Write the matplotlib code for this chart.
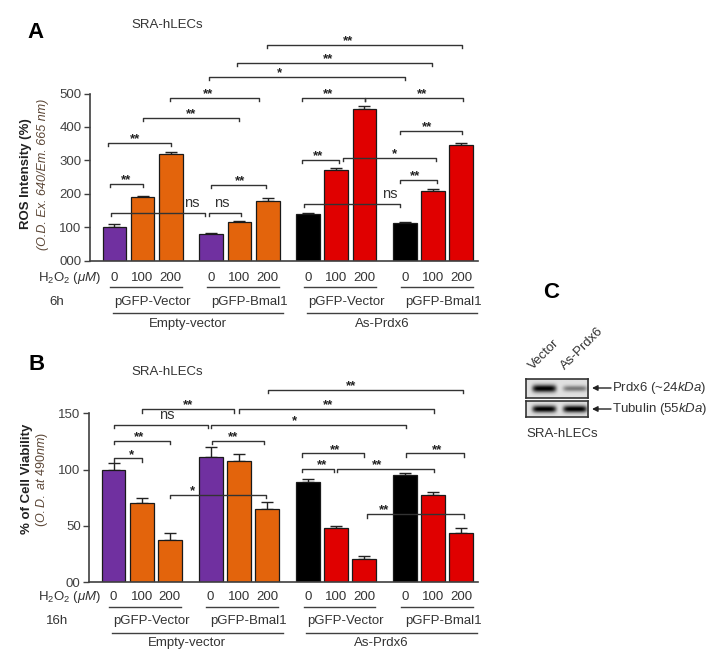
"""
ROS 强度与细胞活力柱状图（A、B）以及 Western blot 示意（C）。
"""

import numpy as np
import matplotlib
matplotlib.use('Agg')
import matplotlib.pyplot as plt
import matplotlib.transforms as mtransforms

plt.rcParams['font.family'] = ['Liberation Sans', 'DejaVu Sans']
plt.rcParams['mathtext.fontset'] = 'custom'
plt.rcParams['mathtext.rm'] = 'Liberation Sans'
plt.rcParams['mathtext.it'] = 'Liberation Sans:italic'
plt.rcParams['mathtext.bf'] = 'Liberation Sans:bold'

# 数据
doses = ['0', '100', '200']
groups = ['pGFP-Vector', 'pGFP-Bmal1', 'pGFP-Vector', 'pGFP-Bmal1']
sets = ['Empty-vector', 'As-Prdx6']
bar_colors = ['#7030a0', '#e3640c', '#e3640c',
              '#7030a0', '#e3640c', '#e3640c',
              '#000000', '#e00000', '#e00000',
              '#000000', '#e00000', '#e00000']

ros = [100, 190, 318, 80, 115, 179, 139, 270, 455, 112, 209, 345]
ros_err = [10, 5, 8, 2, 5, 8, 5, 8, 7, 4, 5, 7]
viab = [100, 70, 38, 111, 108, 65, 89, 48, 20.5, 95.5, 77.5, 44]
viab_err = [6, 5, 6, 9, 6, 6, 3, 2, 2.5, 2, 3, 4]

# 显著性标记 (x1, x2, y, 文字, 文字x)
brackets_a = [
    (5.44, 12.37, 646, '**', 8.31),
    (4.36, 11.30, 592, '**', 7.60),
    (3.36, 10.34, 550, '*', 5.86),
    (1.97, 5.14, 487, '**', 3.33),
    (1.00, 4.43, 427, '**', 2.72),
    (-0.23, 2.00, 352, '**', 0.73),
    (6.67, 8.91, 487, '**', 7.60),
    (8.91, 12.40, 487, '**', 10.94),
    (10.16, 12.37, 389, '**', 11.11),
    (6.67, 7.99, 301, '**', 7.24),
    (8.13, 11.44, 307, '*', 9.98),
    (10.16, 11.48, 242, '**', 10.70),
    (-0.16, 1.01, 229, '**', 0.41),
    (-0.12, 3.22, 142, 'ns', 2.76),
    (3.36, 4.49, 142, 'ns', 3.83),
    (3.42, 5.38, 227, '**', 4.47),
    (6.74, 10.16, 170, 'ns', 9.80),
]
brackets_b = [
    (5.47, 12.39, 170.8, '**', 8.44),
    (4.44, 11.37, 153.6, '**', 7.60),
    (1.00, 4.29, 153.6, '**', 2.65),
    (0.00, 3.34, 139.7, 'ns', 1.90),
    (3.46, 10.37, 139.7, '*', 6.42),
    (0.00, 2.00, 125.5, '**', 0.90),
    (3.49, 5.33, 125.5, '**', 4.25),
    (0.00, 1.00, 110.0, '*', 0.65),
    (6.70, 8.89, 114.5, '**', 7.85),
    (10.40, 12.45, 114.5, '**', 11.47),
    (6.70, 7.82, 100.9, '**', 7.40),
    (7.94, 11.39, 100.9, '**', 9.37),
    (2.00, 5.42, 77.5, '*', 2.80),
    (9.01, 12.44, 60.4, '**', 9.62),
]

blot_lanes = ['Vector', 'As-Prdx6']
prdx6_band = [1.0, 0.45]
tubulin_band = [1.0, 1.0]

W, H = 715, 663
GAP = 3.45
pos = [g * GAP + i for g in range(4) for i in range(3)]
TXT = '#333333'


def px_rect(x, y, w, h):
    """图像像素坐标 -> figure 坐标"""
    return [x / W, 1 - (y + h) / H, w / W, h / H]


fig = plt.figure(figsize=(W / 100, H / 100), dpi=100)

# 覆盖全图的像素坐标层，用于放置文字
ov = fig.add_axes([0, 0, 1, 1])
ov.set_xlim(0, W)
ov.set_ylim(H, 0)
ov.axis('off')


def draw_panel(ax, vals, errs, ymax, ticks, ticklabels, brackets, tick_h):
    ax.set_facecolor('none')
    ax.bar(pos, vals, width=0.85, color=bar_colors, edgecolor='#1a1a1a',
           linewidth=0.9, zorder=2)
    ax.errorbar(pos, vals, yerr=[np.zeros(len(errs)), errs], fmt='none',
                ecolor='#222222', elinewidth=1, capsize=4, capthick=1,
                zorder=1)
    for x1, x2, y, s, tx in brackets:
        ax.plot([x1, x1, x2, x2], [y - tick_h, y, y, y - tick_h],
                color='#333333', lw=1, zorder=3, clip_on=False)
        if s == 'ns':
            ax.annotate(s, xy=(tx, y), xytext=(0, 4.5),
                        textcoords='offset points', ha='center',
                        va='baseline', fontsize=10.5, color=TXT)
        else:
            ax.annotate(s, xy=(tx, y), xytext=(0, 0.5),
                        textcoords='offset points', ha='center',
                        va='baseline', fontsize=9.5, fontweight='bold',
                        color='#222222')
    ax.set_xlim(-0.87, 12.94)
    ax.set_ylim(0, ymax)
    ax.set_xticks([])
    ax.set_yticks(ticks)
    ax.set_yticklabels(ticklabels)
    ax.tick_params(axis='y', length=4, width=1, pad=2, labelsize=9.5,
                   colors='#404040')
    for s in ['top', 'right']:
        ax.spines[s].set_visible(False)
    ax.spines['left'].set_bounds(ticks[0], ticks[-1])
    for s in ['left', 'bottom']:
        ax.spines[s].set_color('#404040')
        ax.spines[s].set_linewidth(1.2)


def draw_xlabels(ax, y_tick, y_ul, y_grp, y_big_ul, y_big, tlabel, ty):
    tr = mtransforms.blended_transform_factory(ax.transData, ov.transData)
    for k, p in enumerate(pos):
        ov.text(p, y_tick, doses[k % 3], transform=tr, ha='center',
                va='center', fontsize=9.5, color=TXT)
    for g in range(4):
        x0 = g * GAP
        ov.plot([x0 - 0.15, x0 + 2.4], [y_ul, y_ul], transform=tr,
                color='#404040', lw=1)
        ov.text(x0 + 1.35, y_grp, groups[g], transform=tr, ha='center',
                va='center', fontsize=9.5, color=TXT)
    for j in range(2):
        x0 = j * 2 * GAP
        ov.plot([x0 - 0.05, x0 + 6.0], [y_big_ul, y_big_ul], transform=tr,
                color='#404040', lw=1)
        ov.text(x0 + 2.62, y_big, sets[j], transform=tr, ha='center',
                va='center', fontsize=9.5, color=TXT)
    ov.text(101, y_tick, r'H$_2$O$_2$ ($\mathit{\mu M}$)', ha='right',
            va='center', fontsize=9.5, color=TXT)
    ov.text(57, ty, tlabel, ha='center', va='center', fontsize=9.5,
            color=TXT)


# A: ROS
axA = fig.add_axes(px_rect(90, 30, 388, 230.7))
draw_panel(axA, ros, ros_err, 690, [0, 100, 200, 300, 400, 500],
           ['000', '100', '200', '300', '400', '500'], brackets_a, 9)
draw_xlabels(axA, 278, 287.3, 301.7, 312.7, 324.3, '6h', 301.7)
ov.text(36, 33, 'A', ha='center', va='center', fontsize=16,
        fontweight='bold')
ov.text(167, 25, 'SRA-hLECs', ha='center', va='center', fontsize=9.5,
        color=TXT)
ov.text(26, 174, 'ROS Intensity (%)', rotation=90, ha='center', va='center',
        fontsize=9.5, fontweight='bold', color='#222222')
ov.text(43, 174, '(O.D. Ex. 640/Em. 665 nm)', rotation=90, ha='center',
        va='center', fontsize=9, style='italic', color='#5b4636')

# B: 细胞活力
axB = fig.add_axes(px_rect(89, 375, 389, 207.3))
draw_panel(axB, viab, viab_err, 184.1, [0, 50, 100, 150],
           ['00', '50', '100', '150'], brackets_b, 3)
draw_xlabels(axB, 596.7, 606.7, 620.7, 632.7, 643.3, '16h', 620.7)
ov.text(37, 365, 'B', ha='center', va='center', fontsize=16,
        fontweight='bold')
ov.text(167, 372, 'SRA-hLECs', ha='center', va='center', fontsize=9.5,
        color=TXT)
ov.text(26.7, 479, '% of Cell Viability', rotation=90, ha='center',
        va='center', fontsize=9.5, fontweight='bold', color='#222222')
ov.text(41.7, 479, r'($\mathit{O.D.\ at\ 490nm}$)', rotation=90,
        ha='center', va='center', fontsize=9, color='#5b4636')

# C: Western blot
ov.text(551, 293, 'C', ha='center', va='center', fontsize=16,
        fontweight='bold')


def draw_blot(rect, levels, thick):
    bx = fig.add_axes(px_rect(*rect))
    xs = np.linspace(0, 1, 200)
    ys = np.linspace(0, 1, 60)
    X, Y = np.meshgrid(xs, ys)
    img = np.zeros_like(X)
    centers = [0.29, 0.78]
    for c, lv in zip(centers, levels):
        img += lv * np.exp(-((X - c) / 0.19) ** 6) * \
            np.exp(-((Y - 0.5) / (thick * (0.6 + 0.4 * lv))) ** 2)
    img = 0.88 - 0.9 * np.clip(img, 0, 1)
    bx.imshow(np.clip(img, 0, 1), cmap='gray', vmin=0, vmax=1,
              aspect='auto', extent=[0, 1, 0, 1])
    bx.set_xticks([])
    bx.set_yticks([])
    for s in bx.spines.values():
        s.set_color('#333333')
        s.set_linewidth(1.2)


draw_blot((526, 379.3, 62.3, 18.4), prdx6_band, 0.2)
draw_blot((526, 401, 62.3, 15.7), tubulin_band, 0.22)

for lab, x0 in zip(blot_lanes, [535, 567]):
    ov.text(x0, 372, lab, rotation=45, rotation_mode='anchor', ha='left',
            va='bottom', fontsize=9.5, color=TXT)

for y, lab in [(388, r'Prdx6 (~24$\mathit{kDa}$)'),
               (409, r'Tubulin (55$\mathit{kDa}$)')]:
    ov.annotate('', xy=(592, y), xytext=(611, y),
                arrowprops=dict(arrowstyle='-|>', color='#222222', lw=1,
                                mutation_scale=8, shrinkA=0, shrinkB=0))
    ov.text(612, y, lab, ha='left', va='center', fontsize=9.5, color=TXT)
ov.text(526, 434, 'SRA-hLECs', ha='left', va='center', fontsize=9.5,
        color=TXT)

plt.savefig('out.png', dpi=100)
